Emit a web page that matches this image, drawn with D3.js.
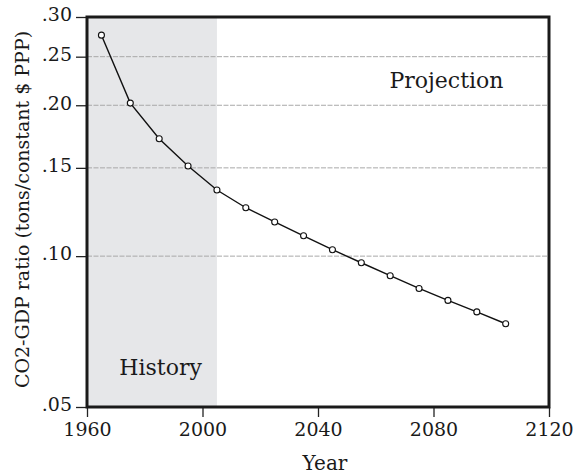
<!DOCTYPE html>
<html><head><meta charset="utf-8">
<script src="https://cdn.jsdelivr.net/npm/d3@7"></script>
<style>body{margin:0;background:#fff}svg{display:block}text{font-family:"DejaVu Serif",serif;fill:#1a1a1a}</style>
</head><body><svg id="c" width="575" height="476"></svg>
<script>
const years = [1965,1975,1985,1995,2005,2015,2025,2035,2045,2055,2065,2075,2085,2095,2105];
const ratio = [0.276,0.202,0.1715,0.1513,0.1355,0.1249,0.117,0.1098,0.103,0.097,0.0914,0.0862,0.0816,0.0774,0.0733];
const xTicks = [1960,2000,2040,2080,2120];
const yTicks = [0.05,0.10,0.15,0.20,0.25,0.30];
const gridVals = [0.10,0.15,0.20,0.25];
const historyRange = [1960,2005];

const m = {l:87,r:26,t:17,b:69};
const W=575,H=476, iw=W-m.l-m.r, ih=H-m.t-m.b;
const svg=d3.select("#c");
const g=svg.append("g").attr("transform",`translate(${m.l},${m.t})`);
const x=d3.scaleLinear().domain([1960,2120]).range([0,iw]);
const y=d3.scaleLog().domain([0.05,0.30]).range([ih,0]);

g.append("rect").attr("x",x(historyRange[0])).attr("y",0)
 .attr("width",x(historyRange[1])-x(historyRange[0])).attr("height",ih).attr("fill","#e6e7e9");

g.selectAll(".grid").data(gridVals).join("line")
 .attr("x1",0).attr("x2",iw).attr("y1",d=>y(d)).attr("y2",d=>y(d))
 .attr("stroke","#a8a8a8").attr("stroke-width",1).attr("stroke-dasharray","5,1.5");

const fmt=d=>d3.format(".2f")(d).replace(/^0/,"");
const ya=g.append("g").call(d3.axisLeft(y).tickValues(yTicks).tickFormat(fmt).tickSize(11).tickPadding(4));
ya.select(".domain").remove();
ya.selectAll(".tick line").attr("stroke","#222").attr("stroke-width",1.3);
ya.selectAll("text").attr("font-size",19).attr("font-family","DejaVu Serif").attr("fill","#1a1a1a").attr("dy","0.2em");

const xa=g.append("g").attr("transform",`translate(0,${ih})`).call(d3.axisBottom(x).tickValues(xTicks).tickFormat(d3.format("d")).tickSize(10).tickPadding(6));
xa.select(".domain").remove();
xa.selectAll(".tick line").attr("stroke","#222").attr("stroke-width",1.3);
xa.selectAll("text").attr("font-size",19).attr("font-family","DejaVu Serif").attr("fill","#1a1a1a");

g.append("rect").attr("x",0).attr("y",0).attr("width",iw).attr("height",ih)
 .attr("fill","none").attr("stroke","#1a1a1a").attr("stroke-width",3);

const pts=years.map((d,i)=>[d,ratio[i]]);
g.append("path").datum(pts).attr("fill","none").attr("stroke","#111").attr("stroke-width",1.4)
 .attr("d",d3.line().x(d=>x(d[0])).y(d=>y(d[1])));
g.selectAll(".pt").data(pts).join("circle").attr("cx",d=>x(d[0])).attr("cy",d=>y(d[1]))
 .attr("r",3).attr("fill","#fff").attr("stroke","#111").attr("stroke-width",1.1);

g.append("text").attr("x",x(2084.5)).attr("y",y(0.2)-17).attr("text-anchor","middle").attr("font-size",22).text("Projection");
g.append("text").attr("x",x(1985.5)).attr("y",ih-32).attr("text-anchor","middle").attr("font-size",22).text("History");

svg.append("text").attr("x",325).attr("y",470).attr("text-anchor","middle").attr("font-size",20).text("Year");
svg.append("text").attr("transform",`translate(29,209.5) rotate(-90)`).attr("text-anchor","middle").attr("font-size",19).text("CO2-GDP ratio (tons/constant $ PPP)");
</script></body></html>
